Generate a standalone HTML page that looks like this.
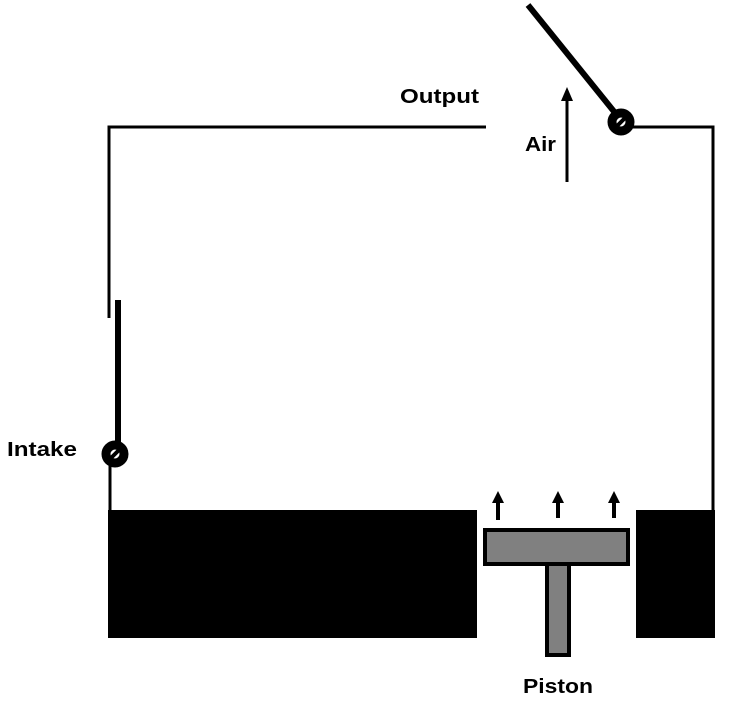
<!DOCTYPE html>
<html><head><style>body{margin:0;background:#fff}</style></head><body>
<svg width="733" height="709" xmlns="http://www.w3.org/2000/svg" font-family="Liberation Sans, sans-serif" font-weight="bold">
<rect width="733" height="709" fill="#fff"/>
<polyline points="109,318 109,127 486,127" fill="none" stroke="#000" stroke-width="3"/>
<polyline points="630,127 713,127 713,512" fill="none" stroke="#000" stroke-width="3"/>
<line x1="118" y1="300" x2="118" y2="446" stroke="#000" stroke-width="6"/>
<line x1="110" y1="462" x2="110" y2="512" stroke="#000" stroke-width="3"/>
<circle cx="115" cy="454" r="9" fill="#fff" stroke="#000" stroke-width="9"/>
<line x1="110" y1="459" x2="120" y2="449" stroke="#000" stroke-width="4"/>
<line x1="528" y1="5" x2="616" y2="114" stroke="#000" stroke-width="6"/>
<circle cx="621" cy="122" r="9" fill="#fff" stroke="#000" stroke-width="9"/>
<line x1="616" y1="127" x2="626" y2="117" stroke="#000" stroke-width="4"/>
<line x1="567" y1="182" x2="567" y2="100" stroke="#000" stroke-width="3"/>
<polygon points="567,87 561,101 573,101" fill="#000"/>
<rect x="108" y="510" width="369" height="128" fill="#000"/>
<rect x="636" y="510" width="79" height="128" fill="#000"/>
<rect x="485" y="530" width="143" height="34" fill="#808080" stroke="#000" stroke-width="4"/>
<rect x="547" y="564" width="22" height="91" fill="#808080" stroke="#000" stroke-width="4"/>
<g stroke="#000" stroke-width="4"><line x1="498" y1="520" x2="498" y2="500"/><line x1="558" y1="518" x2="558" y2="500"/><line x1="614" y1="518" x2="614" y2="500"/></g>
<g fill="#000"><polygon points="498,491 492,503 504,503"/><polygon points="558,491 552,503 564,503"/><polygon points="614,491 608,503 620,503"/></g>
<text x="400" y="103" font-size="20" textLength="79" lengthAdjust="spacingAndGlyphs">Output</text>
<text x="525" y="151" font-size="20" textLength="31" lengthAdjust="spacingAndGlyphs">Air</text>
<text x="7" y="456" font-size="20" textLength="70" lengthAdjust="spacingAndGlyphs">Intake</text>
<text x="523" y="693" font-size="20" textLength="70" lengthAdjust="spacingAndGlyphs">Piston</text>
</svg>
</body></html>
